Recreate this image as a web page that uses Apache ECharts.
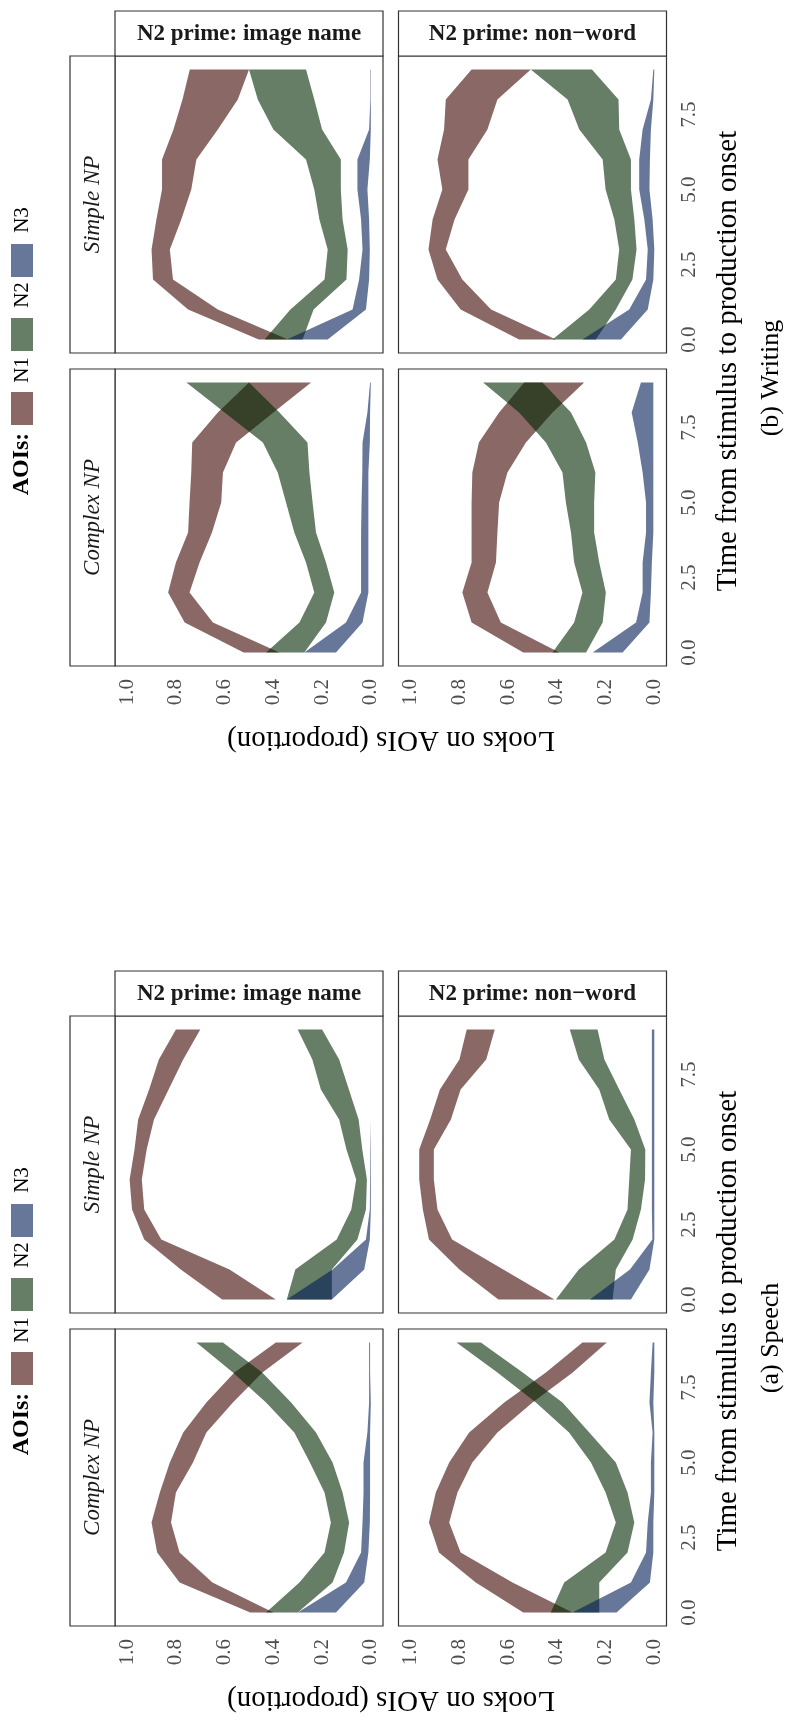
<!DOCTYPE html>
<html><head><meta charset="utf-8">
<script src="https://cdn.jsdelivr.net/npm/echarts@6/dist/echarts.min.js"></script>
<style>html,body{margin:0;padding:0;background:#fff}#c{width:812px;height:1720px}</style>
</head><body><div id="c"></div>
<script>
// ---------- DATA ----------
const times = [0,1,2,3,4,5,6,7,8,9];
const timeTicks = [0, 2.5, 5, 7.5];
const propTicks = [0, 0.2, 0.4, 0.6, 0.8, 1.0];
const aois = ['N1', 'N2', 'N3'];
const npLabels = ['Simple NP', 'Complex NP'];
const primeLabels = ['N2 prime: image name', 'N2 prime: non\u2212word'];
const captions = ['(b) Writing', '(a) Speech'];
const xTitle = 'Time from stimulus to production onset';
const yTitle = 'Looks on AOIs (proportion)';

// each entry: [lower, upper] proportion at times[i]
const writing_simple_image_N1 = [[.34,.46],[.628,.75],[.812,.894],[.825,.90],[.778,.88],[.737,.857],[.716,.857],[.628,.81],[.546,.773],[.50,.743]];
const writing_simple_image_N2 = [[.28,.436],[.235,.33],[.10,.19],[.095,.177],[.116,.211],[.123,.232],[.123,.266],[.20,.40],[.232,.464],[.266,.50]];
const writing_simple_image_N3 = [[.177,.345],[.02,.075],[.007,.048],[.004,.034],[.007,.04],[.014,.055],[.004,.055],[0,.007],[0,.002],[0,.002]];

const writing_simple_nonword_N1 = [[.404,.555],[.67,.795],[.788,.89],[.856,.927],[.82,.91],[.763,.87],[.763,.89],[.685,.863],[.644,.856],[.507,.75]];
const writing_simple_nonword_N2 = [[.24,.418],[.158,.267],[.09,.158],[.073,.144],[.082,.164],[.096,.20],[.096,.212],[.144,.308],[.147,.356],[.256,.507]];
const writing_simple_nonword_N3 = [[.137,.295],[.027,.103],[.004,.034],[0,.027],[.007,.041],[.02,.062],[.018,.062],[.014,.048],[.004,.014],[0,.004]];

const writing_complex_image_N1 = [[.375,.522],[.648,.764],[.744,.832],[.703,.80],[.652,.75],[.614,.744],[.607,.737],[.553,.733],[.40,.628],[.245,.50]];
const writing_complex_image_N2 = [[.273,.43],[.184,.293],[.15,.232],[.184,.266],[.225,.314],[.239,.348],[.252,.382],[.26,.443],[.375,.60],[.50,.757]];
const writing_complex_image_N3 = [[.143,.273],[.034,.102],[.01,.04],[.01,.04],[.01,.04],[.01,.038],[.01,.035],[.004,.034],[.003,.014],[0,.003]];

const writing_complex_nonword_N1 = [[.39,.538],[.63,.75],[.685,.788],[.65,.75],[.644,.75],[.637,.75],[.603,.747],[.527,.72],[.418,.637],[.288,.534]];
const writing_complex_nonword_N2 = [[.28,.418],[.212,.329],[.199,.295],[.226,.329],[.247,.342],[.247,.363],[.242,.377],[.28,.445],[.342,.555],[.459,.703]];
const writing_complex_nonword_N3 = [[.13,.253],[.02,.075],[.014,.048],[.01,.048],[.004,.034],[.004,.034],[.004,.048],[.004,.068],[.004,.093],[.004,.055]];

const speech_simple_image_N1 = [[.39,.61],[.58,.78],[.86,.93],[.93,.98],[.94,.99],[.92,.97],[.89,.955],[.83,.91],[.77,.87],[.70,.80]];
const speech_simple_image_N2 = [[.16,.345],[.16,.31],[.055,.14],[.02,.08],[.016,.06],[.035,.10],[.05,.13],[.09,.205],[.13,.24],[.20,.30]];
const speech_simple_image_N3 = [[.16,.345],[.027,.157],[.004,.02],[0,.004],[0,.003],[0,.002],[0,0],[0,0],[0,0],[0,0]];

const speech_simple_nonword_N1 = [[.41,.64],[.62,.80],[.83,.925],[.89,.95],[.905,.965],[.905,.965],[.835,.92],[.795,.88],[.69,.80],[.655,.77]];
const speech_simple_nonword_N2 = [[.171,.404],[.158,.31],[.089,.164],[.055,.11],[.038,.103],[.037,.096],[.082,.185],[.144,.226],[.205,.31],[.233,.347]];
const speech_simple_nonword_N3 = [[.096,.264],[.02,.10],[0,.008],[0,.01],[0,.01],[0,.01],[0,.01],[0,.01],[0,.01],[0,.01]];

const speech_complex_image_N1 = [[.40,.495],[.65,.785],[.785,.877],[.82,.90],[.80,.866],[.73,.825],[.675,.77],[.566,.675],[.445,.56],[.28,.39]];
const speech_complex_image_N2 = [[.30,.43],[.157,.293],[.11,.19],[.089,.164],[.116,.19],[.157,.25],[.225,.314],[.327,.43],[.446,.566],[.607,.716]];
const speech_complex_image_N3 = [[.143,.30],[.027,.102],[.01,.04],[.004,.034],[.003,.03],[.003,.03],[.003,.014],[0,.007],[.003,.007],[.003,.007]];

const speech_complex_nonword_N1 = [[.336,.538],[.582,.733],[.795,.884],[.842,.925],[.808,.897],[.747,.842],[.644,.76],[.50,.616],[.335,.445],[.195,.295]];
const speech_complex_nonword_N2 = [[.226,.425],[.226,.37],[.11,.20],[.082,.158],[.11,.20],[.158,.26],[.267,.35],[.377,.486],[.54,.644],[.712,.812]];
const speech_complex_nonword_N3 = [[.155,.336],[.018,.096],[.004,.034],[.004,.027],[0,.014],[0,.014],[0,.007],[.004,.02],[0,.014],[0,.007]];

// ---------- LAYOUT / STYLE ----------
const aoiColors = ['rgba(60,3,0,0.6)', 'rgba(0,38,0,0.6)', 'rgba(0,28,85,0.6)'];
const FONT = '"Liberation Serif","DejaVu Serif",serif';
const blockTop = [56, 1016];      // writing, speech: first panel row top
const colLeft = [115, 398.5];
const PW = 268, PH = 297, ROWGAP = 313;

const facetData = [
  // writing
  [[ [writing_simple_image_N1, writing_simple_image_N2, writing_simple_image_N3],
     [writing_simple_nonword_N1, writing_simple_nonword_N2, writing_simple_nonword_N3] ],
   [ [writing_complex_image_N1, writing_complex_image_N2, writing_complex_image_N3],
     [writing_complex_nonword_N1, writing_complex_nonword_N2, writing_complex_nonword_N3] ]],
  // speech
  [[ [speech_simple_image_N1, speech_simple_image_N2, speech_simple_image_N3],
     [speech_simple_nonword_N1, speech_simple_nonword_N2, speech_simple_nonword_N3] ],
   [ [speech_complex_image_N1, speech_complex_image_N2, speech_complex_image_N3],
     [speech_complex_nonword_N1, speech_complex_nonword_N2, speech_complex_nonword_N3] ]]
];

const grids = [], xAxes = [], yAxes = [], series = [], graphics = [];

function bandRender(band, color) {
  return function (params, api) {
    if (params.dataIndex !== 0) return null;
    const pts = [];
    for (let i = 0; i < band.length; i++) pts.push(api.coord([band[i][1], times[i]]));
    for (let i = band.length - 1; i >= 0; i--) pts.push(api.coord([band[i][0], times[i]]));
    return { type: 'polygon', shape: { points: pts }, style: { fill: color, stroke: null } };
  };
}

let gi = 0;
for (let m = 0; m < 2; m++) {
  for (let r = 0; r < 2; r++) {
    for (let c = 0; c < 2; c++) {
      const top = blockTop[m] + r * ROWGAP;
      grids.push({ left: colLeft[c], top: top, width: PW, height: PH, show: true,
        backgroundColor: '#fff', borderColor: '#333', borderWidth: 1.2 });
      xAxes.push({ gridIndex: gi, type: 'value', min: -0.05, max: 1.05, inverse: true,
        axisLine: { show: false }, axisTick: { show: false }, splitLine: { show: false },
        axisLabel: { show: r === 1, customValues: propTicks, rotate: 90, margin: 13,
          color: '#4d4d4d', fontSize: 21, fontFamily: FONT, formatter: v => v.toFixed(1) } });
      yAxes.push({ gridIndex: gi, type: 'value', min: -0.45, max: 9.45, position: 'right',
        axisLine: { show: false }, axisTick: { show: false }, splitLine: { show: false },
        axisLabel: { show: c === 1, customValues: timeTicks, rotate: 90, margin: 12,
          color: '#4d4d4d', fontSize: 21, fontFamily: FONT, formatter: v => v.toFixed(1) } });
      for (let a = 0; a < 3; a++) {
        const band = facetData[m][r][c][a];
        series.push({ type: 'custom', name: aois[a], xAxisIndex: gi, yAxisIndex: gi,
          data: band.map((d, i) => [d[0], d[1], times[i]]),
          encode: { x: [0, 1], y: 2 }, silent: true, z: 2 + a,
          renderItem: bandRender(band, aoiColors[a]) });
      }
      gi++;
    }
  }
  const bt = blockTop[m];
  // top strips
  for (let c = 0; c < 2; c++) {
    graphics.push({ type: 'rect', shape: { x: colLeft[c], y: bt - 45, width: PW, height: 45 },
      style: { fill: '#fff', stroke: '#333', lineWidth: 1.2 } });
    graphics.push({ type: 'text', x: colLeft[c] + PW / 2, y: bt - 22, style: { text: primeLabels[c],
      font: 'bold 23px ' + FONT, fill: '#1a1a1a', align: 'center', verticalAlign: 'middle' } });
  }
  // left strips
  for (let r = 0; r < 2; r++) {
    const top = bt + r * ROWGAP;
    graphics.push({ type: 'rect', shape: { x: 70, y: top, width: 45, height: PH },
      style: { fill: '#fff', stroke: '#333', lineWidth: 1.2 } });
    graphics.push({ type: 'text', x: 92.5, y: top + PH / 2, rotation: Math.PI / 2, style: { text: npLabels[r],
      font: 'italic 23px ' + FONT, fill: '#1a1a1a', align: 'center', verticalAlign: 'middle' } });
  }
  // axis titles
  graphics.push({ type: 'text', x: 391, y: bt + 684, rotation: Math.PI, style: { text: yTitle,
    font: '29px ' + FONT, fill: '#000', align: 'center', verticalAlign: 'middle' } });
  graphics.push({ type: 'text', x: 728, y: bt + 305, rotation: Math.PI / 2, style: { text: xTitle,
    font: '29px ' + FONT, fill: '#000', align: 'center', verticalAlign: 'middle' } });
  // caption
  graphics.push({ type: 'text', x: 771, y: bt + 322, rotation: Math.PI / 2, style: { text: captions[m],
    font: '26px ' + FONT, fill: '#000', align: 'center', verticalAlign: 'middle' } });
  // legend (reads bottom-to-top)
  const legText = [bt + 314, bt + 239, bt + 164];   // N1, N2, N3 label centres
  const legBox = [bt + 336, bt + 262, bt + 188];    // swatch tops
  graphics.push({ type: 'text', x: 22, y: bt + 408, rotation: Math.PI / 2, style: { text: 'AOIs:',
    font: 'bold 24px ' + FONT, fill: '#000', align: 'center', verticalAlign: 'middle' } });
  for (let a = 0; a < 3; a++) {
    graphics.push({ type: 'rect', shape: { x: 11, y: legBox[a], width: 22, height: 33 },
      style: { fill: aoiColors[a] } });
    graphics.push({ type: 'text', x: 22, y: legText[a], rotation: Math.PI / 2, style: { text: aois[a],
      font: '21px ' + FONT, fill: '#000', align: 'center', verticalAlign: 'middle' } });
  }
}

const chart = echarts.init(document.getElementById('c'), null, { renderer: 'canvas' });
chart.setOption({
  animation: false,
  backgroundColor: '#fff',
  grid: grids, xAxis: xAxes, yAxis: yAxes, series: series,
  graphic: { elements: graphics }
});
</script></body></html>
